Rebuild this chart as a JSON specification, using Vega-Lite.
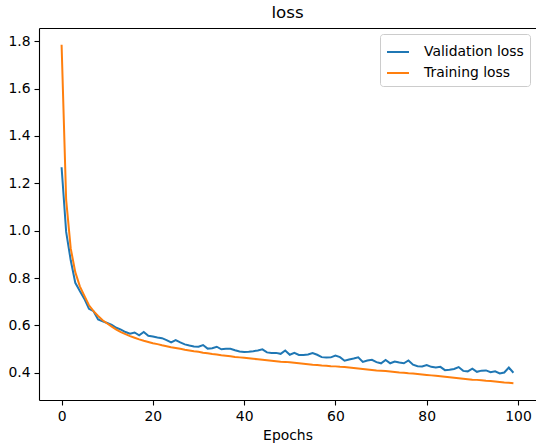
{
  "$schema": "https://vega.github.io/schema/vega-lite/v6.json",
  "autosize": {"type": "none"},
  "width": 497,
  "height": 372,
  "padding": {"left": 39, "top": 28, "right": 0, "bottom": 45},
  "title": {"text": "loss", "fontSize": 16.7, "font": "DejaVu Sans", "fontWeight": "normal", "color": "black", "offset": 6},
  "data": {"values": [
    {"epoch": 0, "Validation loss": 1.268, "Training loss": 1.785},
    {"epoch": 1, "Validation loss": 0.995, "Training loss": 1.13},
    {"epoch": 2, "Validation loss": 0.875, "Training loss": 0.925},
    {"epoch": 3, "Validation loss": 0.78, "Training loss": 0.825},
    {"epoch": 4, "Validation loss": 0.745, "Training loss": 0.765},
    {"epoch": 5, "Validation loss": 0.712, "Training loss": 0.725},
    {"epoch": 6, "Validation loss": 0.67, "Training loss": 0.685},
    {"epoch": 7, "Validation loss": 0.66, "Training loss": 0.66},
    {"epoch": 8, "Validation loss": 0.625, "Training loss": 0.64},
    {"epoch": 9, "Validation loss": 0.617, "Training loss": 0.622},
    {"epoch": 10, "Validation loss": 0.61, "Training loss": 0.608},
    {"epoch": 11, "Validation loss": 0.602, "Training loss": 0.595},
    {"epoch": 12, "Validation loss": 0.59, "Training loss": 0.582},
    {"epoch": 13, "Validation loss": 0.582, "Training loss": 0.572},
    {"epoch": 14, "Validation loss": 0.572, "Training loss": 0.563},
    {"epoch": 15, "Validation loss": 0.565, "Training loss": 0.555},
    {"epoch": 16, "Validation loss": 0.57, "Training loss": 0.548},
    {"epoch": 17, "Validation loss": 0.558, "Training loss": 0.541},
    {"epoch": 18, "Validation loss": 0.572, "Training loss": 0.535},
    {"epoch": 19, "Validation loss": 0.556, "Training loss": 0.53},
    {"epoch": 20, "Validation loss": 0.553, "Training loss": 0.525},
    {"epoch": 21, "Validation loss": 0.549, "Training loss": 0.521},
    {"epoch": 22, "Validation loss": 0.546, "Training loss": 0.516},
    {"epoch": 23, "Validation loss": 0.538, "Training loss": 0.512},
    {"epoch": 24, "Validation loss": 0.528, "Training loss": 0.508},
    {"epoch": 25, "Validation loss": 0.538, "Training loss": 0.505},
    {"epoch": 26, "Validation loss": 0.528, "Training loss": 0.501},
    {"epoch": 27, "Validation loss": 0.52, "Training loss": 0.497},
    {"epoch": 28, "Validation loss": 0.515, "Training loss": 0.494},
    {"epoch": 29, "Validation loss": 0.511, "Training loss": 0.491},
    {"epoch": 30, "Validation loss": 0.51, "Training loss": 0.489},
    {"epoch": 31, "Validation loss": 0.517, "Training loss": 0.485},
    {"epoch": 32, "Validation loss": 0.502, "Training loss": 0.482},
    {"epoch": 33, "Validation loss": 0.504, "Training loss": 0.479},
    {"epoch": 34, "Validation loss": 0.51, "Training loss": 0.477},
    {"epoch": 35, "Validation loss": 0.499, "Training loss": 0.474},
    {"epoch": 36, "Validation loss": 0.501, "Training loss": 0.472},
    {"epoch": 37, "Validation loss": 0.501, "Training loss": 0.47},
    {"epoch": 38, "Validation loss": 0.495, "Training loss": 0.467},
    {"epoch": 39, "Validation loss": 0.49, "Training loss": 0.465},
    {"epoch": 40, "Validation loss": 0.488, "Training loss": 0.463},
    {"epoch": 41, "Validation loss": 0.489, "Training loss": 0.461},
    {"epoch": 42, "Validation loss": 0.491, "Training loss": 0.459},
    {"epoch": 43, "Validation loss": 0.494, "Training loss": 0.457},
    {"epoch": 44, "Validation loss": 0.499, "Training loss": 0.455},
    {"epoch": 45, "Validation loss": 0.486, "Training loss": 0.453},
    {"epoch": 46, "Validation loss": 0.484, "Training loss": 0.451},
    {"epoch": 47, "Validation loss": 0.484, "Training loss": 0.449},
    {"epoch": 48, "Validation loss": 0.48, "Training loss": 0.447},
    {"epoch": 49, "Validation loss": 0.494, "Training loss": 0.446},
    {"epoch": 50, "Validation loss": 0.476, "Training loss": 0.444},
    {"epoch": 51, "Validation loss": 0.484, "Training loss": 0.442},
    {"epoch": 52, "Validation loss": 0.475, "Training loss": 0.44},
    {"epoch": 53, "Validation loss": 0.475, "Training loss": 0.438},
    {"epoch": 54, "Validation loss": 0.477, "Training loss": 0.436},
    {"epoch": 55, "Validation loss": 0.483, "Training loss": 0.434},
    {"epoch": 56, "Validation loss": 0.476, "Training loss": 0.433},
    {"epoch": 57, "Validation loss": 0.466, "Training loss": 0.431},
    {"epoch": 58, "Validation loss": 0.464, "Training loss": 0.43},
    {"epoch": 59, "Validation loss": 0.465, "Training loss": 0.428},
    {"epoch": 60, "Validation loss": 0.473, "Training loss": 0.427},
    {"epoch": 61, "Validation loss": 0.466, "Training loss": 0.425},
    {"epoch": 62, "Validation loss": 0.451, "Training loss": 0.424},
    {"epoch": 63, "Validation loss": 0.456, "Training loss": 0.422},
    {"epoch": 64, "Validation loss": 0.46, "Training loss": 0.42},
    {"epoch": 65, "Validation loss": 0.465, "Training loss": 0.418},
    {"epoch": 66, "Validation loss": 0.446, "Training loss": 0.416},
    {"epoch": 67, "Validation loss": 0.452, "Training loss": 0.414},
    {"epoch": 68, "Validation loss": 0.455, "Training loss": 0.412},
    {"epoch": 69, "Validation loss": 0.445, "Training loss": 0.41},
    {"epoch": 70, "Validation loss": 0.44, "Training loss": 0.409},
    {"epoch": 71, "Validation loss": 0.454, "Training loss": 0.407},
    {"epoch": 72, "Validation loss": 0.44, "Training loss": 0.405},
    {"epoch": 73, "Validation loss": 0.447, "Training loss": 0.403},
    {"epoch": 74, "Validation loss": 0.443, "Training loss": 0.401},
    {"epoch": 75, "Validation loss": 0.44, "Training loss": 0.4},
    {"epoch": 76, "Validation loss": 0.452, "Training loss": 0.398},
    {"epoch": 77, "Validation loss": 0.434, "Training loss": 0.397},
    {"epoch": 78, "Validation loss": 0.428, "Training loss": 0.395},
    {"epoch": 79, "Validation loss": 0.427, "Training loss": 0.393},
    {"epoch": 80, "Validation loss": 0.433, "Training loss": 0.391},
    {"epoch": 81, "Validation loss": 0.425, "Training loss": 0.389},
    {"epoch": 82, "Validation loss": 0.422, "Training loss": 0.387},
    {"epoch": 83, "Validation loss": 0.425, "Training loss": 0.385},
    {"epoch": 84, "Validation loss": 0.411, "Training loss": 0.383},
    {"epoch": 85, "Validation loss": 0.413, "Training loss": 0.381},
    {"epoch": 86, "Validation loss": 0.416, "Training loss": 0.379},
    {"epoch": 87, "Validation loss": 0.424, "Training loss": 0.377},
    {"epoch": 88, "Validation loss": 0.408, "Training loss": 0.375},
    {"epoch": 89, "Validation loss": 0.406, "Training loss": 0.373},
    {"epoch": 90, "Validation loss": 0.417, "Training loss": 0.371},
    {"epoch": 91, "Validation loss": 0.404, "Training loss": 0.37},
    {"epoch": 92, "Validation loss": 0.409, "Training loss": 0.368},
    {"epoch": 93, "Validation loss": 0.41, "Training loss": 0.366},
    {"epoch": 94, "Validation loss": 0.402, "Training loss": 0.365},
    {"epoch": 95, "Validation loss": 0.406, "Training loss": 0.363},
    {"epoch": 96, "Validation loss": 0.397, "Training loss": 0.361},
    {"epoch": 97, "Validation loss": 0.401, "Training loss": 0.359},
    {"epoch": 98, "Validation loss": 0.422, "Training loss": 0.358},
    {"epoch": 99, "Validation loss": 0.4, "Training loss": 0.356}
  ]},
  "transform": [{"fold": ["Validation loss", "Training loss"], "as": ["series", "loss"]}],
  "encoding": {
    "y": {
      "field": "loss", "type": "quantitative",
      "scale": {"domain": [0.285, 1.856], "nice": false, "zero": false},
      "axis": {"values": [0.4, 0.6, 0.8, 1.0, 1.2, 1.4, 1.6, 1.8], "format": ".1f", "title": null}
    }
  },
  "layer": [
    {
      "mark": {"type": "line", "strokeWidth": 2, "clip": true},
      "encoding": {
        "x": {
          "field": "epoch", "type": "quantitative",
          "scale": {"domain": [-4.95, 103.95], "nice": false, "zero": false},
          "axis": {"orient": "bottom", "values": [0, 20, 40, 60, 80, 100], "title": "Epochs", "titlePadding": 6}
        },
        "color": {
          "field": "series", "type": "nominal",
          "scale": {"domain": ["Validation loss", "Training loss"], "range": ["#1f77b4", "#ff7f0e"]},
          "legend": {"title": null, "orient": "top-right", "offset": 6}
        },
        "order": {"field": "epoch"}
      }
    },
    {
      "mark": {"type": "line", "opacity": 0, "clip": true},
      "encoding": {
        "x": {
          "field": "epoch", "type": "quantitative",
          "scale": {"domain": [-4.95, 103.95], "nice": false, "zero": false},
          "axis": {"orient": "top", "labels": false, "ticks": false, "title": null, "domain": true}
        },
        "detail": {"field": "series", "type": "nominal"}
      }
    }
  ],
  "resolve": {"axis": {"x": "independent"}},
  "config": {
    "view": {"stroke": null},
    "font": "DejaVu Sans",
    "axis": {
      "grid": false,
      "domainColor": "black",
      "domainWidth": 1.1,
      "tickColor": "black",
      "tickWidth": 1.1,
      "tickSize": 5,
      "labelPadding": 4,
      "labelFont": "DejaVu Sans",
      "labelFontSize": 13.9,
      "labelColor": "black",
      "titleFont": "DejaVu Sans",
      "titleFontSize": 13.9,
      "titleFontWeight": "normal",
      "titleColor": "black"
    },
    "legend": {
      "labelFont": "DejaVu Sans",
      "labelFontSize": 13.9,
      "labelColor": "black",
      "symbolType": "stroke",
      "symbolStrokeWidth": 2,
      "symbolSize": 484,
      "labelOffset": 14,
      "padding": 6,
      "rowPadding": 2,
      "strokeColor": "#cccccc",
      "fillColor": "white",
      "cornerRadius": 3
    }
  }
}
